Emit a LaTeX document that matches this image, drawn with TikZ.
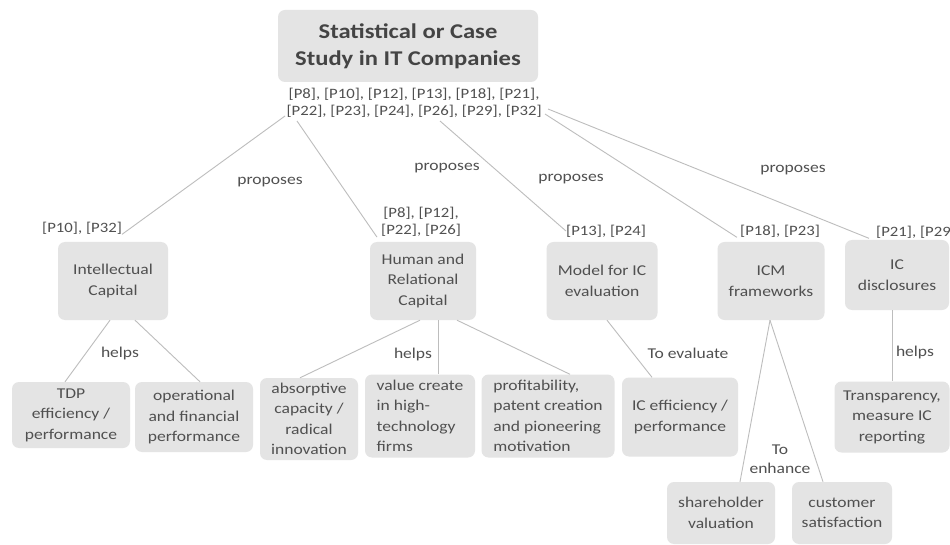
\documentclass[tikz,border=0pt]{standalone}
\usepackage{fontspec}
\setmainfont{Carlito}[FakeStretch=1.17]
\definecolor{boxgray}{HTML}{E4E4E4}
\definecolor{txt}{HTML}{505050}
\definecolor{linegray}{HTML}{BDBDBD}
\tikzset{
  box/.style={fill=boxgray, rounded corners=7pt, font=\fontsize{15}{20.5}\selectfont, text=txt, align=center, inner sep=2pt},
  lbl/.style={font=\fontsize{15}{19}\selectfont, text=txt, align=center, inner sep=0pt},
  refl/.style={font=\fontsize{14.3}{17.5}\selectfont, text=txt, inner sep=0pt, align=center},
  conn/.style={draw=linegray, line width=0.9pt}
}
\begin{document}
\begin{tikzpicture}[x=1pt,y=-1pt]
\useasboundingbox (0,0) rectangle (950,545);
\fill[white] (0,0) rectangle (950,545);
% top
\node[box, minimum width=260, minimum height=72, font=\fontsize{21}{27}\selectfont\bfseries, text=txt!85!black] (top) at (408,46) {Statistical or Case\\Study in IT Companies};
\node[refl] (toprefs) at (414,103) {[P8], [P10], [P12], [P13], [P18], [P21],\\{}[P22], [P23], [P24], [P26], [P29], [P32]};
% second level
\node[box, minimum width=110, minimum height=78] (ic) at (113,281) {Intellectual\\Capital};
\node[box, minimum width=106, minimum height=78] (hrc) at (423,281) {Human and\\Relational\\Capital};
\node[box, minimum width=111, minimum height=78] (model) at (602,281) {Model for IC\\evaluation};
\node[box, minimum width=107, minimum height=78] (icm) at (771,281) {ICM\\frameworks};
\node[box, minimum width=104, minimum height=70] (icd) at (897,275) {IC\\disclosures};
% refs
\node[refl] (ric) at (82,228) {[P10], [P32]};
\node[refl] (rhrc) at (421,222) {[P8], [P12],\\{}[P22], [P26]};
\node[refl] (rmodel) at (606,231) {[P13], [P24]};
\node[refl] (ricm) at (780,231) {[P18], [P23]};
\node[refl, anchor=west] (ricd) at (876,232) {[P21], [P29]};
% third level
\node[box, minimum width=118, minimum height=66] (tdp) at (71,415) {TDP\\efficiency /\\performance};
\node[box, minimum width=118, minimum height=70] (op) at (194,417) {operational\\and financial\\performance};
\node[box, minimum width=98, minimum height=82] (abs) at (309,419) {absorptive\\capacity /\\radical\\innovation};
\node[box, minimum width=110, minimum height=83, align=left] (val) at (420,416) {value create\\in high-\\technology\\firms};
\node[box, minimum width=133, minimum height=83, align=left] (prof) at (548,416) {profitability,\\patent creation\\and pioneering\\motivation};
\node[box, minimum width=116, minimum height=79] (ice) at (680,417) {IC efficiency /\\performance};
\node[box, minimum width=115, minimum height=71] (tr) at (892,417) {Transparency,\\measure IC\\reporting};
\node[box, minimum width=108, minimum height=62] (sh) at (721,513) {shareholder\\valuation};
\node[box, minimum width=100, minimum height=62] (cs) at (842,513) {customer\\satisfaction};
% labels
\node[lbl] (p1) at (270,182) {proposes};
\node[lbl] (p2) at (447,168) {proposes};
\node[lbl] (p3) at (571,179) {proposes};
\node[lbl] (p4) at (793,170) {proposes};
\node[lbl] (h1) at (120,353) {helps};
\node[lbl] (h2) at (413,355) {helps};
\node[lbl] (h3) at (915,352) {helps};
\node[lbl] (ev) at (688,353) {To evaluate};
\node[lbl] (en) at (780,459) {To\\enhance};
% top connectors
\coordinate (s1) at (285,116);
\coordinate (s2) at (297,121);
\coordinate (s3) at (440,121);
\coordinate (s4) at (545,114);
\coordinate (s5) at (548,109);
\draw[conn] (s1) -- (ric.south east);
\draw[conn] (s2) -- ([xshift=-4pt]rhrc.south west);
\draw[conn] (s3) -- (rmodel.west);
\draw[conn] (s4) -- ([xshift=-3pt]ricm.south west);
\draw[conn] (s5) -- ([xshift=-7pt]ricd.south west);
% lower connectors
\draw[conn] ([xshift=-3pt]ic.south) -- ([xshift=-6pt]tdp.north);
\draw[conn] ([xshift=22pt]ic.south) -- ([xshift=6pt]op.north);
\draw[conn] ([xshift=-3pt]hrc.south) -- ([xshift=-9pt]abs.north);
\draw[conn] ([xshift=15pt]hrc.south) -- ([xshift=18pt]val.north);
\draw[conn] ([xshift=34pt]hrc.south) -- ([xshift=22pt]prof.north);
\draw[conn] ([xshift=5pt]model.south) -- ([xshift=-28pt]ice.north);
\draw[conn] ([xshift=-1pt]icm.south) -- ([xshift=19pt]sh.north);
\draw[conn] ([xshift=-1pt]icm.south) -- ([xshift=-19pt]cs.north);
\draw[conn] ([xshift=-5pt]icd.south) -- (tr.north);
\end{tikzpicture}
\end{document}
